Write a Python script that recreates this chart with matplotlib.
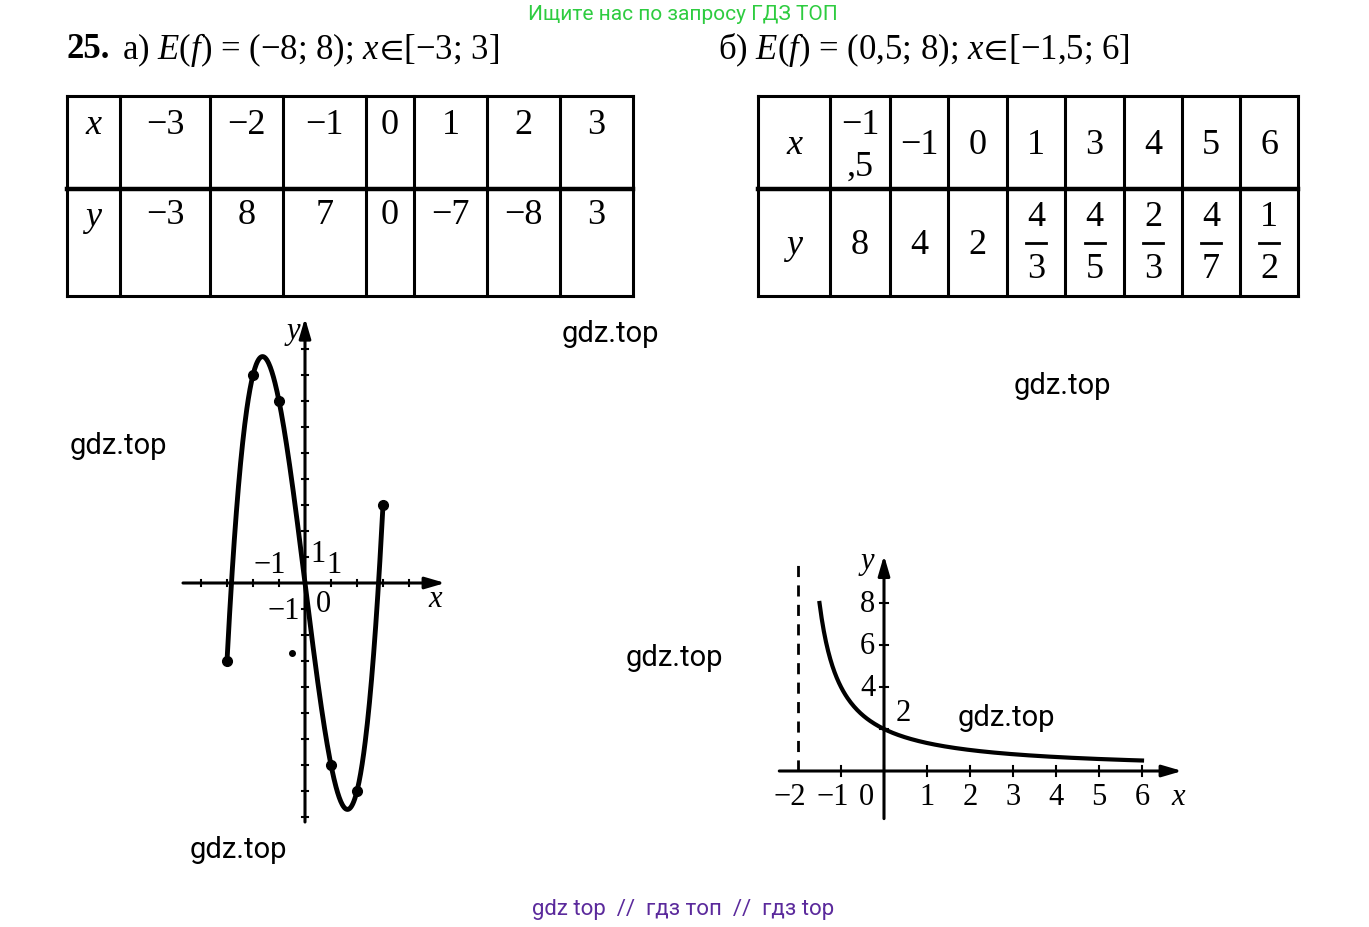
import numpy as np
import matplotlib
matplotlib.use("Agg")
import matplotlib.pyplot as plt

plt.rcParams["mathtext.fontset"] = "custom"
plt.rcParams["mathtext.rm"] = "Liberation Serif"
plt.rcParams["mathtext.it"] = "Liberation Serif:italic"
plt.rcParams["mathtext.fallback"] = "stix"

# ---- data ----
xa = [-3, -2, -1, 0, 1, 2, 3]
ya = [-3, 8, 7, 0, -7, -8, 3]
xb_labels = ["−1\n,5", "−1", "0", "1", "3", "4", "5", "6"]
yb_labels = ["8", "4", "2", "4/3", "4/5", "2/3", "4/7", "1/2"]
xb = [-1.5, -1, 0, 1, 3, 4, 5, 6]
yb = [8, 4, 2, 4/3, 4/5, 2/3, 4/7, 1/2]
watermarks = [(610, 334), (118, 446), (1062, 386), (674, 658), (1006, 718), (238, 850)]

W, H = 1369, 928
fig = plt.figure(figsize=(W/100, H/100), dpi=100)
ax = fig.add_axes([0, 0, 1, 1])
ax.set_xlim(0, W); ax.set_ylim(H, 0); ax.axis("off")
SER = ["Liberation Serif", "DejaVu Serif"]
LW = 2.2

ax.text(683, 14, "Ищите нас по запросу ГДЗ ТОП", ha="center", va="center",
        fontsize=15, family="Roboto", color="#2ecc40")
ax.text(683, 910, "gdz top  //  гдз топ  //  гдз top", ha="center", va="center",
        fontsize=16, family="Roboto", color="#5b2a9c")
for (wx, wy) in watermarks:
    ax.text(wx, wy, "gdz.top", ha="center", va="center", fontsize=21, family="Roboto", color="black")

ax.text(67, 50, "25.", ha="left", va="center", fontsize=25, family=SER, weight="bold")
ax.text(122, 50, "а) $E(f)$ = (−8; 8); $x\\!\\in\\!$[−3; 3]", ha="left", va="center",
        fontsize=25, family=SER)
ax.text(718, 50, "б) $E(f)$ = (0,5; 8); $x\\!\\in\\!$[−1,5; 6]", ha="left", va="center",
        fontsize=25, family=SER)

def table(cols, rows):
    for c in cols:
        ax.plot([c, c], [rows[0], rows[-1]], color="black", lw=LW)
    for r in rows:
        ax.plot([cols[0], cols[-1]], [r, r], color="black", lw=LW + (1 if r == rows[1] else 0))

# table a
ca = [67, 120, 210, 283, 366, 414, 487, 560, 633]
ra = [97, 190, 297]
table(ca, ra)
ax.text((ca[0]+ca[1])/2, 125, "x", ha="center", va="center", fontsize=26, family=SER, style="italic")
ax.text((ca[0]+ca[1])/2, 218, "y", ha="center", va="center", fontsize=26, family=SER, style="italic")
for i, (x, y) in enumerate(zip(xa, ya)):
    cx = (ca[i+1]+ca[i+2])/2
    ax.text(cx, 125, str(x).replace("-", "−"), ha="center", va="center", fontsize=26, family=SER)
    ax.text(cx, 216, str(y).replace("-", "−"), ha="center", va="center", fontsize=26, family=SER)

# table b
cb = [758, 830, 890, 948, 1007, 1065, 1124, 1182, 1240, 1298]
rb = [97, 190, 297]
table(cb, rb)
ax.text((cb[0]+cb[1])/2, 146, "x", ha="center", va="center", fontsize=26, family=SER, style="italic")
ax.text((cb[0]+cb[1])/2, 246, "y", ha="center", va="center", fontsize=26, family=SER, style="italic")
for i, (xl, yl) in enumerate(zip(xb_labels, yb_labels)):
    cx = (cb[i+1]+cb[i+2])/2
    if "\n" in xl:
        ax.text(cx, 126, "−1", ha="center", va="center", fontsize=26, family=SER)
        ax.text(cx, 167, ",5", ha="center", va="center", fontsize=26, family=SER)
    else:
        ax.text(cx, 146, xl, ha="center", va="center", fontsize=26, family=SER)
    if "/" in yl:
        n, d = yl.split("/")
        ax.text(cx, 218, n, ha="center", va="center", fontsize=26, family=SER)
        ax.text(cx, 270, d, ha="center", va="center", fontsize=26, family=SER)
        ax.plot([cx-10, cx+10], [244, 244], color="black", lw=2)
    else:
        ax.text(cx, 246, yl, ha="center", va="center", fontsize=26, family=SER)

# ---- graph a: origin (305,584), unit 26 px ----
ox, oy, u = 305, 584, 26
ga = fig.add_axes([0, 0, 1, 1]); ga.patch.set_alpha(0); ga.axis("off")
ga.set_xlim(-ox/u, (W-ox)/u); ga.set_ylim(-(H-oy)/u, oy/u)
ga.annotate("", xy=(5.5, 0), xytext=(-4.8, 0), arrowprops=dict(arrowstyle="-|>,head_length=1.2,head_width=0.35", lw=LW, color="black"))
ga.annotate("", xy=(0, 10.3), xytext=(0, -9.3), arrowprops=dict(arrowstyle="-|>,head_length=1.2,head_width=0.35", lw=LW, color="black"))
for t in range(-9, 10):
    ga.plot([-0.12, 0.12], [t, t], color="black", lw=1.5)
for t in range(-4, 5):
    ga.plot([t, t], [-0.12, 0.12], color="black", lw=1.5)
coef = np.polyfit(xa, ya, 3)
xs = np.linspace(min(xa), max(xa), 300)
ga.plot(xs, np.polyval(coef, xs), color="black", lw=3.5)
ga.plot([x for x in xa if x != 0], [y for x, y in zip(xa, ya) if x != 0], "o", color="black", ms=7)
ga.plot(-0.5, -2.7, "o", color="black", ms=4)
fs = 22
ga.text(-0.45, 9.7, "y", fontsize=fs, family=SER, style="italic", ha="center", va="center")
ga.text(5.0, -0.6, "x", fontsize=fs, family=SER, style="italic", ha="center", va="center")
ga.text(-1.35, 0.7, "−1", fontsize=fs, family=SER, ha="center", va="center")
ga.text(0.5, 1.15, "1", fontsize=fs, family=SER, ha="center", va="center")
ga.text(1.1, 0.7, "1", fontsize=fs, family=SER, ha="center", va="center")
ga.text(0.7, -0.8, "0", fontsize=fs, family=SER, ha="center", va="center")
ga.text(-0.8, -1.05, "−1", fontsize=fs, family=SER, ha="center", va="center")

# ---- graph b: origin (884,772), ux 43, uy 21 ----
ox2, oy2, ux, uy = 884, 772, 43, 21
gb = fig.add_axes([0, 0, 1, 1]); gb.patch.set_alpha(0); gb.axis("off")
gb.set_xlim(-ox2/ux, (W-ox2)/ux); gb.set_ylim(-(H-oy2)/uy, oy2/uy)
gb.annotate("", xy=(7.0, 0), xytext=(-2.5, 0), arrowprops=dict(arrowstyle="-|>,head_length=1.2,head_width=0.35", lw=LW, color="black"))
gb.annotate("", xy=(0, 10.4), xytext=(0, -2.4), arrowprops=dict(arrowstyle="-|>,head_length=1.2,head_width=0.35", lw=LW, color="black"))
gb.plot([-2, -2], [0, 10], color="black", lw=2, ls=(0, (4, 3)))
for t in range(-1, 7):
    gb.plot([t, t], [-0.25, 0.25], color="black", lw=1.5)
for t in [2, 4, 6, 8]:
    gb.plot([-0.1, 0.1], [t, t], color="black", lw=1.5)
A = np.vstack([np.ones(len(xb)), -np.array(yb)]).T
a_, c_ = np.linalg.lstsq(A, np.array(yb) * np.array(xb), rcond=None)[0]
xs2 = np.linspace(min(xb), max(xb), 300)
gb.plot(xs2, a_/(xs2 + c_), color="black", lw=3)
gb.text(-0.4, 10.0, "y", fontsize=fs, family=SER, style="italic", ha="center", va="center")
gb.text(6.85, -1.2, "x", fontsize=fs, family=SER, style="italic", ha="center", va="center")
for t in [8, 6, 4]:
    gb.text(-0.38, t, str(t), fontsize=fs, family=SER, ha="center", va="center")
gb.text(0.45, 2.8, "2", fontsize=fs, family=SER, ha="center", va="center")
offs = {-2: -0.2, -1: -0.2, 0: -0.4}
for t in range(-2, 7):
    gb.text(t + offs.get(t, 0), -1.2, str(t).replace("-", "−"),
            fontsize=fs, family=SER, ha="center", va="center")

fig.savefig("out.png", dpi=100)
